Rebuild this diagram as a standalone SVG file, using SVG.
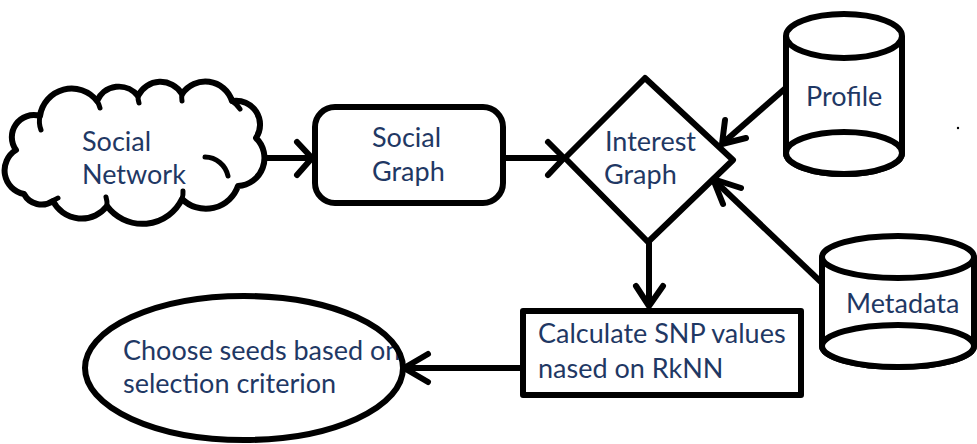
<svg xmlns="http://www.w3.org/2000/svg" width="977" height="444" viewBox="0 0 977 444">
  <style>
    .shape { fill: #ffffff; stroke: #000000; stroke-width: 6; stroke-linejoin: round; }
    .outline { fill: none; stroke: #000000; stroke-width: 6; }
    .hook { fill: none; stroke: #000000; stroke-width: 5; stroke-linecap: round; }
    .line { fill: none; stroke: #000000; stroke-width: 6; }
    .head { fill: none; stroke: #000000; stroke-width: 6; stroke-linecap: round; stroke-linejoin: round; }
    .label { font-family: Lato, "Open Sans", "Liberation Sans", sans-serif; font-size: 27px; fill: #1f3864; }
  </style>
  <rect width="977" height="444" fill="#ffffff"/>

  <!-- connectors -->
  <g id="connectors">
    <path class="line" d="M 262 158 L 311 158"/>
    <path class="head" d="M 297 142 L 312 158 L 297 175"/>
    <path class="line" d="M 505 158 L 563 158"/>
    <path class="head" d="M 548 142 L 564 158 L 548 175"/>
    <path class="line" d="M 788 86 L 724 142"/>
    <path class="head" d="M 725 120 L 722 144 L 746 138"/>
    <path class="line" d="M 822 283 L 716 182"/>
    <path class="head" d="M 723 204 L 713 179 L 741 188"/>
    <path class="line" d="M 649 242 L 649 305"/>
    <path class="head" d="M 636 286 L 649 306 L 663 286"/>
    <path class="line" d="M 520 368 L 405 368"/>
    <path class="head" d="M 428 354 L 404 368 L 428 382"/>
  </g>

  <!-- Social Network (cloud) -->
  <g id="social-network">
    <path class="shape" d="M 24 194
      A 24 24 0 0 1 16 150
      A 22 22 0 0 1 40 116
      A 32 32 0 0 1 97 101
      A 24 24 0 0 1 138 96
      A 25 25 0 0 1 182 94
      A 28 28 0 0 1 232 101
      A 24 24 0 0 1 256 138
      A 28 28 0 0 1 238 186
      A 34 34 0 0 1 182 199
      A 44 44 0 0 1 107 206
      A 32 32 0 0 1 53 201
      A 20 20 0 0 1 24 194 Z"/>
    <path class="hook" d="M 40 116 A 24 24 0 0 0 41 130"/>
    <path class="hook" d="M 97 101 A 20 20 0 0 1 100 108"/>
    <path class="hook" d="M 138 96 A 20 20 0 0 0 139 103"/>
    <path class="hook" d="M 182 94 A 20 20 0 0 0 182 101"/>
    <path class="hook" d="M 232 101 A 24 24 0 0 1 240 109"/>
    <path class="hook" d="M 205 157 A 24 24 0 0 1 228 176"/>
    <path class="hook" d="M 182 199 A 20 20 0 0 0 183 191"/>
    <path class="hook" d="M 107 206 A 24 24 0 0 0 106 197"/>
    <path class="hook" d="M 53 201 A 20 20 0 0 1 58 198"/>
    <text class="label" x="82" y="151">Social</text>
    <text class="label" x="82" y="184">Network</text>
  </g>

  <!-- Social Graph -->
  <g id="social-graph">
    <rect class="shape" x="315" y="107" width="188" height="96" rx="20" ry="20"/>
    <text class="label" x="372" y="147">Social</text>
    <text class="label" x="372" y="181">Graph</text>
  </g>

  <!-- Interest Graph -->
  <g id="interest-graph">
    <polygon class="shape" points="645,78 733,160 648,242 565,158"/>
    <text class="label" x="605" y="151">Interest</text>
    <text class="label" x="604" y="184">Graph</text>
  </g>

  <!-- Profile store -->
  <g id="profile">
    <path class="shape" d="M 786 36 L 786 153 A 58 21 0 0 0 902 153 L 902 36"/>
    <ellipse class="shape" cx="844" cy="36" rx="58" ry="22"/>
    <ellipse class="shape" cx="844" cy="153" rx="58" ry="21"/>
    <text class="label" x="806" y="106">Profile</text>
  </g>
  <circle cx="958" cy="128" r="1.2" fill="#000000"/>

  <!-- Metadata store -->
  <g id="metadata">
    <path class="shape" d="M 822 257 L 822 346 A 76 21 0 0 0 974 346 L 974 257"/>
    <ellipse class="shape" cx="898" cy="257" rx="76" ry="21"/>
    <ellipse class="shape" cx="898" cy="346" rx="76" ry="21"/>
    <text class="label" x="846" y="313">Metadata</text>
  </g>

  <!-- Calculate SNP values -->
  <g id="calculate-snp">
    <rect class="shape" x="523" y="311" width="278" height="84"/>
    <text class="label" x="538" y="343">Calculate SNP values</text>
    <text class="label" x="538" y="378">nased on RkNN</text>
  </g>

  <!-- Choose seeds (outline drawn over the label) -->
  <g id="choose-seeds">
    <text class="label" x="123" y="360">Choose seeds based on</text>
    <text class="label" x="123" y="393">selection criterion</text>
    <ellipse class="outline" cx="244" cy="368" rx="159" ry="72"/>
  </g>
</svg>
